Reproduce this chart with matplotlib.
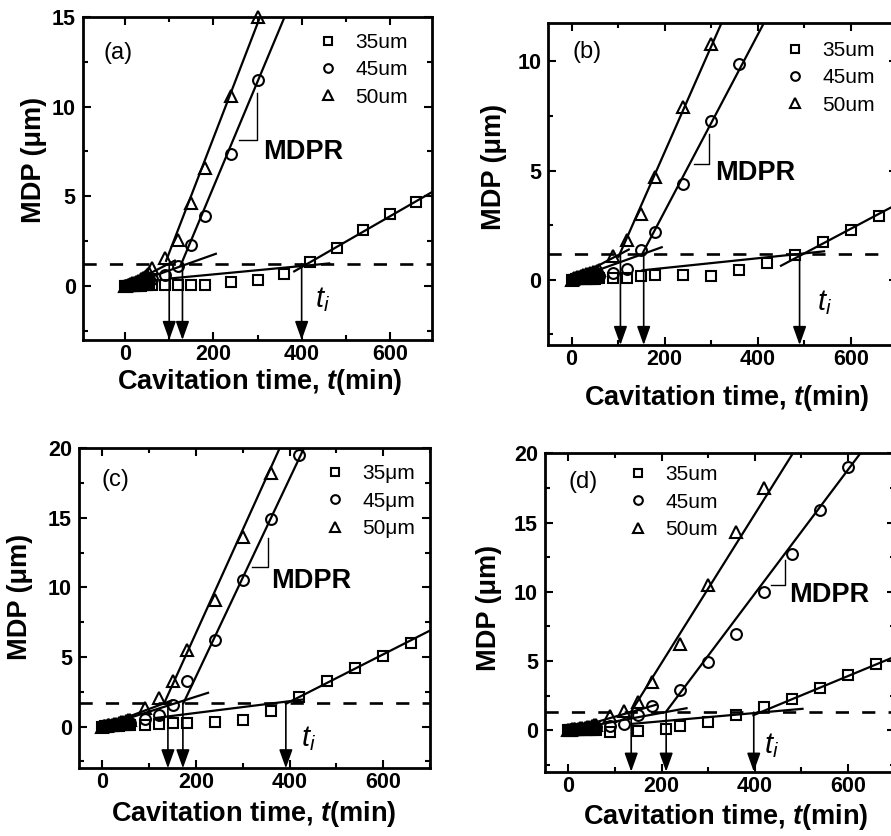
import matplotlib
matplotlib.use('Agg')
import matplotlib.pyplot as plt
from matplotlib.ticker import MultipleLocator

plt.rcParams['font.family'] = ['Liberation Sans', 'DejaVu Sans']
plt.rcParams['mathtext.fontset'] = 'custom'
plt.rcParams['mathtext.rm'] = 'Liberation Sans'
plt.rcParams['mathtext.it'] = 'Liberation Sans:italic'
plt.rcParams['mathtext.bf'] = 'Liberation Sans:bold'
plt.rcParams['mathtext.bfit'] = 'Liberation Sans:italic:bold'

# ---------------- data ----------------
T_EARLY = [0, 3, 6, 9, 12, 15, 20, 25, 30, 35, 40, 45, 50, 55, 60]

# panel (a)
a_t35 = T_EARLY + [90, 120, 150, 180, 240, 300, 360, 420, 480, 540, 600, 660]
a_y35 = [0, 0, 0, 0.01, 0.01, 0.01, 0.02, 0.02, 0.03, 0.03, 0.04, 0.04, 0.05, 0.05, 0.06,
         0.07, 0.07, 0.07, 0.08, 0.22, 0.36, 0.69, 1.37, 2.14, 3.12, 4.0, 4.7]
a_t45 = T_EARLY + [90, 120, 150, 180, 240, 300]
a_y45 = [0, 0.02, 0.04, 0.05, 0.07, 0.09, 0.12, 0.15, 0.18, 0.21, 0.25, 0.28, 0.32, 0.36, 0.4,
         0.6, 1.1, 2.3, 3.9, 7.35, 11.5]
a_t50 = T_EARLY + [90, 120, 150, 180, 240, 300]
a_y50 = [0, 0.03, 0.06, 0.09, 0.12, 0.15, 0.2, 0.25, 0.3, 0.37, 0.45, 0.52, 0.6, 0.75, 1.0,
         1.55, 2.55, 4.6, 6.6, 10.6, 15.0]
a_fit35_t, a_fit35_y = [381, 700], [0.79, 5.3]
a_fit45_t, a_fit45_y = [125, 365], [1.1, 15.2]
a_fit50_t, a_fit50_y = [92, 306], [1.35, 15.0]
a_low35_t, a_low35_y = [100, 465], [0.42, 1.27]
a_low45_t, a_low45_y = [0, 208], [0, 1.82]
a_low50_t, a_low50_y = [0, 115], [0, 1.45]
a_dash = 1.25
a_arrows = [100, 130, 400]

# panel (b)
b_t35 = T_EARLY + [90, 120, 150, 180, 240, 300, 360, 420, 480, 540, 600, 660]
b_y35 = [0, 0, 0, 0.01, 0.01, 0.01, 0.02, 0.02, 0.03, 0.03, 0.03, 0.04, 0.04, 0.05, 0.05,
         0.05, 0.08, 0.15, 0.2, 0.2, 0.15, 0.46, 0.77, 1.12, 1.73, 2.25, 2.9]
b_t45 = T_EARLY + [90, 120, 150, 180, 240, 300, 360]
b_y45 = [0, 0.01, 0.02, 0.04, 0.05, 0.06, 0.08, 0.1, 0.12, 0.13, 0.14, 0.14, 0.15, 0.15, 0.15,
         0.3, 0.5, 1.35, 2.2, 4.4, 7.25, 9.9]
b_t50 = T_EARLY + [90, 120, 150, 180, 240, 300]
b_y50 = [0, 0.02, 0.05, 0.07, 0.1, 0.12, 0.16, 0.2, 0.24, 0.27, 0.3, 0.33, 0.36, 0.4, 0.45,
         1.1, 1.8, 3.0, 4.7, 7.9, 10.8]
b_fit35_t, b_fit35_y = [448, 700], [0.61, 3.46]
b_fit45_t, b_fit45_y = [150, 413], [1.1, 11.75]
b_fit50_t, b_fit50_y = [100, 322], [1.0, 11.75]
b_low35_t, b_low35_y = [150, 545], [0.42, 1.3]
b_low45_t, b_low45_y = [0, 196], [0, 1.5]
b_low50_t, b_low50_y = [0, 125], [0, 1.4]
b_dash = 1.15
b_arrows = [105, 155, 490]

# panel (c)
c_t35 = T_EARLY + [90, 120, 150, 180, 240, 300, 360, 420, 480, 540, 600, 660]
c_y35 = [0, 0, 0.01, 0.02, 0.02, 0.03, 0.04, 0.05, 0.06, 0.07, 0.08, 0.09, 0.1, 0.11, 0.12,
         0.1, 0.15, 0.24, 0.24, 0.36, 0.5, 1.1, 2.16, 3.31, 4.2, 5.04, 6.04]
c_t45 = T_EARLY + [90, 120, 150, 180, 240, 300, 360, 420]
c_y45 = [0, 0.01, 0.02, 0.04, 0.05, 0.06, 0.08, 0.1, 0.12, 0.14, 0.16, 0.18, 0.2, 0.22, 0.25,
         0.55, 0.85, 1.55, 3.3, 6.2, 10.55, 14.9, 19.5]
c_t50 = T_EARLY + [90, 120, 150, 180, 240, 300, 360]
c_y50 = [0, 0.02, 0.04, 0.06, 0.08, 0.1, 0.13, 0.16, 0.2, 0.25, 0.3, 0.35, 0.4, 0.45, 0.5,
         1.3, 2.05, 3.25, 5.5, 9.1, 13.6, 18.2]
c_fit35_t, c_fit35_y = [390, 700], [1.6, 6.9]
c_fit45_t, c_fit45_y = [172, 432], [1.6, 20.1]
c_fit50_t, c_fit50_y = [132, 380], [1.68, 20.1]
c_low35_t, c_low35_y = [110, 430], [0.6, 1.95]
c_low45_t, c_low45_y = [0, 228], [0, 2.45]
c_low50_t, c_low50_y = [0, 150], [0, 1.9]
c_dash = 1.7
c_arrows = [140, 172, 392]

# panel (d)
d_t35 = T_EARLY + [90, 150, 210, 240, 300, 360, 420, 480, 540, 600, 660]
d_y35 = [0, 0, 0, 0.01, 0.01, 0.01, 0.02, 0.02, 0.02, 0.03, 0.03, 0.03, 0.03, 0.04, 0.04,
         -0.1, -0.07, 0.1, 0.3, 0.62, 1.1, 1.65, 2.27, 3.04, 3.95, 4.78]
d_t45 = T_EARLY + [90, 120, 150, 180, 240, 300, 360, 420, 480, 540, 600]
d_y45 = [0, 0.01, 0.02, 0.03, 0.04, 0.05, 0.07, 0.09, 0.1, 0.12, 0.14, 0.16, 0.18, 0.2, 0.22,
         0.3, 0.45, 1.1, 1.75, 2.9, 4.95, 6.94, 10.0, 12.75, 15.9, 19.0]
d_t50 = T_EARLY + [90, 120, 150, 180, 240, 300, 360, 420]
d_y50 = [0, 0.02, 0.04, 0.05, 0.07, 0.08, 0.1, 0.13, 0.16, 0.19, 0.22, 0.26, 0.3, 0.35, 0.4,
         1.0, 1.4, 2.0, 3.5, 6.25, 10.5, 14.35, 17.46]
d_fit35_t, d_fit35_y = [395, 700], [1.05, 5.3]
d_fit45_t, d_fit45_y = [209, 629], [1.3, 20.1]
d_fit50_t, d_fit50_y = [134, 482], [1.3, 20.0]
d_low35_t, d_low35_y = [135, 505], [0.45, 1.55]
d_low45_t, d_low45_y = [0, 256], [0, 1.6]
d_low50_t, d_low50_y = [0, 190], [0, 1.85]
d_dash = 1.3
d_arrows = [135, 210, 398]

labels_um = ['35um', '45um', '50um']
labels_mu = ['35\u03bcm', '45\u03bcm', '50\u03bcm']
panel_names = ['(a)', '(b)', '(c)', '(d)']

# ---------------- layout ----------------
W, H = 891, 836
fig = plt.figure(figsize=(W / 100, H / 100), dpi=100)


def px_axes(x0, x1, top, bottom):
    return fig.add_axes([x0 / W, 1 - bottom / H, (x1 - x0) / W, (bottom - top) / H])


def draw(ax, series, fits, lows, dash, arrows, xlim, ylim, ymaj, labels, name,
         name_pos, leg_anchor, mdpr, ti_pos, ylab_pos, xlab_pos):
    ax.set_xlim(*xlim)
    ax.set_ylim(*ylim)
    markers = [('s', 6.8), ('o', 7.8), ('^', 8.2)]
    handles = []
    for (t, y), (m, ms), lab in zip(series, markers, labels):
        h, = ax.plot(t, y, linestyle='none', marker=m, ms=ms, mfc='none',
                     mec='black', mew=1.5, clip_on=False, label=lab, zorder=4)
        handles.append(h)
    for t, y in fits + lows:
        ax.plot(t, y, color='black', lw=1.6, solid_capstyle='butt', zorder=3)
    ax.axhline(dash, color='black', lw=1.9, dashes=(5, 5), zorder=2)
    for xa in arrows:
        ax.annotate('', xy=(xa, ylim[0]), xytext=(xa, dash),
                    arrowprops=dict(arrowstyle='-|>,head_length=0.95,head_width=0.34',
                                    mutation_scale=12, lw=1.2, color='black',
                                    shrinkA=0, shrinkB=0),
                    annotation_clip=False, zorder=3)
    # MDPR slope marker
    (hx0, hx1, hy0, hy1), (tx, ty) = mdpr
    ax.plot([hx0, hx1, hx1], [hy0, hy0, hy1], color='black', lw=1.0, zorder=3)
    ax.text(tx, ty, 'MDPR', fontsize=19.5, fontweight='bold', ha='left', va='center')
    ax.text(ti_pos[0], ti_pos[1], r'$t_i$', fontsize=21, ha='left', va='center')
    ax.text(name_pos[0], name_pos[1], name, transform=ax.transAxes, fontsize=17,
            ha='center', va='center')
    ax.legend(handles=handles, loc='upper left', bbox_to_anchor=leg_anchor,
              frameon=False, prop={'size': 15, 'weight': 'normal'},
              handlelength=1.0, handletextpad=0.8, labelspacing=0.4,
              borderpad=0, borderaxespad=0, markerscale=0.8)
    ax.xaxis.set_major_locator(MultipleLocator(200))
    ax.xaxis.set_minor_locator(MultipleLocator(100))
    ax.yaxis.set_major_locator(MultipleLocator(ymaj))
    ax.yaxis.set_minor_locator(MultipleLocator(ymaj / 2))
    ax.tick_params(which='both', direction='in', top=True, right=True, width=1.5)
    ax.tick_params(which='major', length=6, labelsize=15.5)
    ax.tick_params(which='minor', length=3.5)
    ax.tick_params(axis='x', pad=3)
    ax.tick_params(axis='y', pad=5)
    for lab in ax.get_xticklabels() + ax.get_yticklabels():
        lab.set_fontweight('bold')
    for sp in ax.spines.values():
        sp.set_linewidth(2.0)
    ax.set_ylabel('MDP (\u03bcm)', fontsize=19.5, fontweight='bold')
    ax.set_xlabel(r'Cavitation time, $\mathbfit{t}$(min)', fontsize=19.5,
                  fontweight='bold')
    ax.yaxis.set_label_coords(*ylab_pos)
    ax.xaxis.set_label_coords(*xlab_pos)


ax_a = px_axes(82.7, 432.3, 16.7, 340)
ax_b = px_axes(548.3, 897.3, 23.3, 345)
ax_c = px_axes(79, 430, 448.3, 768.3)
ax_d = px_axes(545, 894.5, 453.3, 771.7)

draw(ax_a, [(a_t35, a_y35), (a_t45, a_y45), (a_t50, a_y50)],
     [(a_fit35_t, a_fit35_y), (a_fit45_t, a_fit45_y), (a_fit50_t, a_fit50_y)],
     [(a_low35_t, a_low35_y), (a_low45_t, a_low45_y), (a_low50_t, a_low50_y)],
     a_dash, a_arrows, (-96, 696), (-3, 15), 5, labels_um, panel_names[0],
     (0.101, 0.887), (0.672, 0.95), ((257, 298, 8.12, 10.75), (313, 7.46)),
     (430, -0.75), (-0.102, 0.557), (0.507, -0.082))

draw(ax_b, [(b_t35, b_y35), (b_t45, b_y45), (b_t50, b_y50)],
     [(b_fit35_t, b_fit35_y), (b_fit45_t, b_fit45_y), (b_fit50_t, b_fit50_y)],
     [(b_low35_t, b_low35_y), (b_low45_t, b_low45_y), (b_low50_t, b_low50_y)],
     b_dash, b_arrows, (-50, 700), (-3, 11.75), 5, labels_um, panel_names[1],
     (0.11, 0.912), (0.677, 0.945), ((263, 295, 5.29, 6.67), (308, 4.9)),
     (527, -1.07), (-0.1195, 0.553), (0.511, -0.118))

draw(ax_c, [(c_t35, c_y35), (c_t45, c_y45), (c_t50, c_y50)],
     [(c_fit35_t, c_fit35_y), (c_fit45_t, c_fit45_y), (c_fit50_t, c_fit50_y)],
     [(c_low35_t, c_low35_y), (c_low45_t, c_low45_y), (c_low50_t, c_low50_y)],
     c_dash, c_arrows, (-50, 700), (-3, 20), 5, labels_mu, panel_names[2],
     (0.103, 0.90), (0.70, 0.95), ((320, 353, 11.5, 13.55), (360, 10.43)),
     (425, -0.84), (-0.131, 0.535), (0.499, -0.095))

draw(ax_d, [(d_t35, d_y35), (d_t45, d_y45), (d_t50, d_y50)],
     [(d_fit35_t, d_fit35_y), (d_fit45_t, d_fit45_y), (d_fit50_t, d_fit50_y)],
     [(d_low35_t, d_low35_y), (d_low45_t, d_low45_y), (d_low50_t, d_low50_y)],
     d_dash, d_arrows, (-50, 700), (-3, 20), 5, labels_um, panel_names[3],
     (0.109, 0.911), (0.237, 0.962), ((435, 464, 10.5, 12.3), (474, 9.8)),
     (419, -1.08), (-0.124, 0.514), (0.517, -0.094))

fig.savefig('out.png', dpi=100)
